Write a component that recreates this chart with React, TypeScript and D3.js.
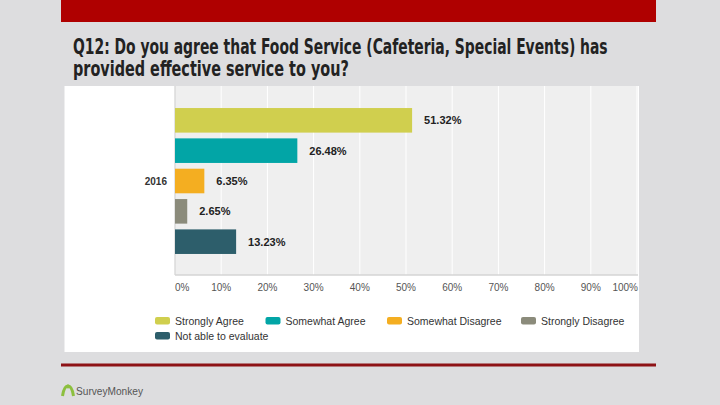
import React, { useLayoutEffect, useRef, useState } from "react"
import * as d3 from "d3"

// survey answers, one bar each (single year: 2016)
const categories = ["Strongly Agree", "Somewhat Agree", "Somewhat Disagree", "Strongly Disagree", "Not able to evaluate"]
const values = [51.32, 26.48, 6.35, 2.65, 13.23]
const colors = ["#d0cf4e", "#02a5a6", "#f4ae21", "#8b8b7b", "#2d5e6b"]
const yearLabel = "2016"
const ticks = [0, 10, 20, 30, 40, 50, 60, 70, 80, 90, 100]
const titleLines = [
  "Q12: Do you agree that Food Service (Cafeteria, Special Events) has",
  "provided effective service to you?",
]
const titleWidths = [535, 276]

const W = 720
const H = 405

const App: React.FC = () => {
  const titleRefs = useRef<(SVGTextElement | null)[]>([])
  const [titleScale, setTitleScale] = useState<number[]>([1, 1])

  // squeeze the title horizontally so it looks like the condensed original
  useLayoutEffect(() => {
    const s = titleRefs.current.map((el, i) => {
      if (!el) return 1
      const len = el.getComputedTextLength()
      return len > 0 ? titleWidths[i] / len : 1
    })
    setTitleScale(s)
  }, [])

  // panel / plot layout
  const panel = { left: 64.5, top: 86, right: 639, bottom: 352 }
  const plot = { left: 175, top: 86, right: 638, bottom: 275 }

  const x = d3.scaleLinear().domain([0, 100]).range([175, 637])
  const y = d3.scaleBand<string>()
    .domain(categories)
    .range([105, 257])
    .paddingInner(0.19)
    .paddingOuter(0.1)

  const legendCols = [155, 265.5, 387, 521]
  const legendRows = [317, 332]
  const legendPos = categories.map((_, i) => ({
    x: legendCols[i % 4],
    y: legendRows[Math.floor(i / 4)],
  }))

  const fmt = d3.format(".2f")

  return (
    <svg width={W} height={H} style={{ position: "absolute", left: 0, top: 0 }}>
      <rect x={0} y={0} width={W} height={H} fill="#dddddf" />
      {/* top banner */}
      <rect x={61} y={0} width={595} height={22} fill="#af0000" />

      {/* title */}
      {titleLines.map((t, i) => (
        <g key={i} transform={`translate(73,${54 + i * 22}) scale(${titleScale[i]},1)`}>
          <text
            ref={el => { titleRefs.current[i] = el }}
            x={0}
            y={0}
            fontFamily="'DejaVu Sans Condensed', 'DejaVu Sans', sans-serif"
            fontWeight="bold"
            fontSize={21}
            fill="#222"
          >
            {t}
          </text>
        </g>
      ))}

      {/* chart panel */}
      <rect x={panel.left} y={panel.top} width={panel.right - panel.left} height={panel.bottom - panel.top} fill="#fff" />
      <rect x={plot.left} y={plot.top} width={plot.right - plot.left} height={plot.bottom - plot.top} fill="#efefef" />

      {ticks.map(t => (
        <line key={t} x1={x(t)} x2={x(t)} y1={plot.top} y2={plot.bottom} stroke="#fff" strokeWidth={1} />
      ))}
      <line x1={plot.left} x2={plot.left} y1={plot.top} y2={plot.bottom} stroke="#c8c8c8" />
      <line x1={plot.left} x2={plot.right} y1={plot.bottom} y2={plot.bottom} stroke="#d4d4d4" strokeWidth={1.5} />

      {ticks.map((t, i) => (
        <text
          key={t}
          x={i === ticks.length - 1 ? x(t) + 1 : x(t)}
          y={290.5}
          fontFamily="'Liberation Sans', Arial, sans-serif"
          fontSize={10}
          fill="#555"
          textAnchor={i === 0 ? "start" : i === ticks.length - 1 ? "end" : "middle"}
        >
          {t}%
        </text>
      ))}

      {/* bars */}
      {categories.map((c, i) => (
        <g key={c}>
          <rect
            x={x(0)}
            y={y(c)}
            width={x(values[i]) - x(0)}
            height={y.bandwidth()}
            fill={colors[i]}
          />
          <text
            x={x(values[i]) + 12}
            y={(y(c) as number) + y.bandwidth() / 2}
            dy="0.35em"
            fontFamily="'Liberation Sans', Arial, sans-serif"
            fontWeight="bold"
            fontSize={11}
            fill="#222"
          >
            {fmt(values[i])}%
          </text>
        </g>
      ))}

      <text
        x={167}
        y={(y(categories[2]) as number) + y.bandwidth() / 2}
        dy="0.35em"
        textAnchor="end"
        fontFamily="'Liberation Sans', Arial, sans-serif"
        fontWeight="bold"
        fontSize={10}
        fill="#333"
      >
        {yearLabel}
      </text>

      {/* legend */}
      {categories.map((c, i) => (
        <g key={c} transform={`translate(${legendPos[i].x},${legendPos[i].y})`}>
          <rect x={0} y={0} width={15} height={7.5} rx={2} fill={colors[i]} />
          <text
            x={20}
            y={4}
            dy="0.35em"
            fontFamily="'Liberation Sans', Arial, sans-serif"
            fontSize={10.5}
            fill="#333"
          >
            {c}
          </text>
        </g>
      ))}

      {/* footer */}
      <rect x={61} y={363.5} width={595} height={3} fill="#8e1216" />
      <path d="M62.5,396 Q64,386 68,386 Q72,386 73.5,396" fill="none" stroke="#8cbf3f" strokeWidth={3} />
      <circle cx={68} cy={386.5} r={2} fill="#8cbf3f" />
      <text
        x={76}
        y={395}
        fontFamily="'Liberation Sans', Arial, sans-serif"
        fontSize={11}
        fill="#555"
        textLength={67}
        lengthAdjust="spacingAndGlyphs"
      >
        SurveyMonkey
      </text>
    </svg>
  )
}

export default App
